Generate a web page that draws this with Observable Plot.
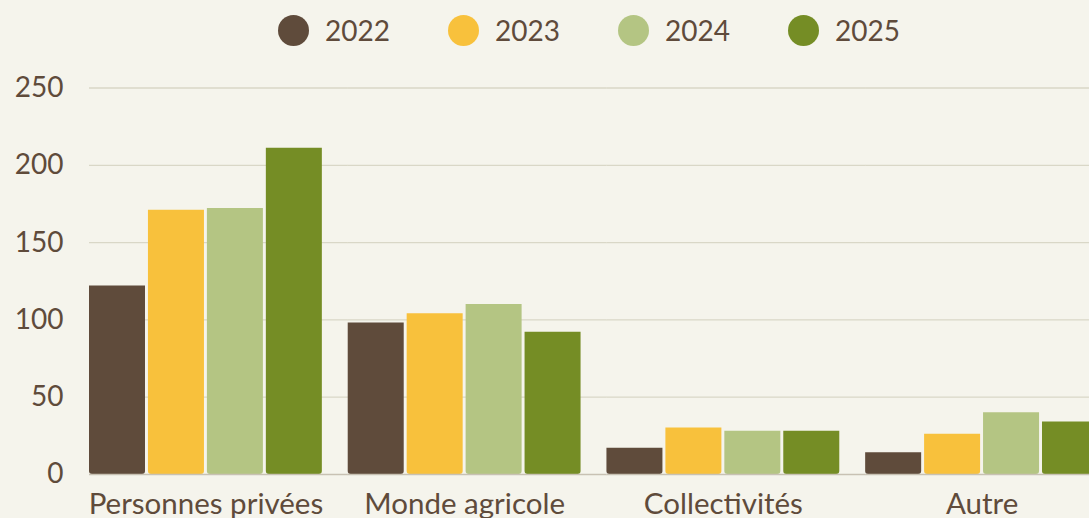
<!DOCTYPE html>
<html><head><meta charset="utf-8">
<script src="https://cdn.jsdelivr.net/npm/d3@7"></script>
<script src="https://cdn.jsdelivr.net/npm/@observablehq/plot@0.6"></script>
<style>
html,body{margin:0;padding:0;background:#f5f4ec;overflow:hidden;width:1089px;height:518px;}
#legend{display:flex;align-items:center;height:60px;padding-left:278px;font-family:Lato,sans-serif;font-size:28px;color:#5f4b3b;}
.item{display:flex;align-items:center;margin-right:58px;}
.sw{width:31px;height:31px;border-radius:50%;margin-right:16px;}
#chart{width:1098px;}
#chart svg{display:block;max-width:none !important;width:1098px !important;height:458px !important;}
</style></head>
<body>
<div id="legend"></div>
<div id="chart"></div>
<script>
const categories = ["Personnes privées", "Monde agricole", "Collectivités", "Autre"];
const years = ["2022", "2023", "2024", "2025"];
const v2022 = [122, 98, 17, 14];
const v2023 = [171, 104, 30, 26];
const v2024 = [172, 110, 28, 40];
const v2025 = [211, 92, 28, 34];
const colors = ["#5f4b3b", "#f8c13c", "#b4c583", "#758d25"];
const yTicks = [0, 50, 100, 150, 200, 250];

const series = [v2022, v2023, v2024, v2025];
const data = [];
categories.forEach((c, i) => years.forEach((yr, j) => data.push({category: c, year: yr, value: series[j][i]})));

const legend = document.getElementById("legend");
years.forEach((yr, j) => {
  const it = document.createElement("div"); it.className = "item";
  const sw = document.createElement("div"); sw.className = "sw"; sw.style.background = colors[j];
  const t = document.createElement("span"); t.textContent = yr;
  it.appendChild(sw); it.appendChild(t); legend.appendChild(it);
});

const chart = Plot.plot({
  width: 1098,
  height: 458,
  marginTop: 27.5,
  marginBottom: 44,
  marginLeft: 89,
  marginRight: 0,
  style: {background: "#f5f4ec", fontFamily: "Lato, sans-serif", color: "#5f4b3b", overflow: "hidden", maxWidth: "none"},
  fx: {domain: categories, paddingInner: 0.1, paddingOuter: 0, round: false, label: null},
  x: {domain: years, paddingInner: 0.05, paddingOuter: 0, round: false, axis: null},
  y: {domain: [0, 250], axis: null},
  color: {domain: years, range: colors},
  marks: [
    Plot.ruleY(yTicks.filter(d => d > 0), {stroke: "#d9d7c7", strokeWidth: 1.3, strokeOpacity: 1, insetRight: -26}),
    Plot.axisY({ticks: yTicks, tickSize: 0, tickPadding: 26, fontSize: 28, fill: "#5f4b3b", label: null}),
    Plot.axisFx({anchor: "bottom", tickSize: 0, tickPadding: 19, fontSize: 29.5, fill: "#5f4b3b", label: null}),
    Plot.barY(data, {fx: "category", x: "year", y: "value", fill: "year", ry2: 3, rx: 0}),
    Plot.ruleY([0], {stroke: "#c8c1b3", strokeWidth: 1.3, insetRight: -26})
  ]
});
document.getElementById("chart").appendChild(chart);
</script>
</body></html>
